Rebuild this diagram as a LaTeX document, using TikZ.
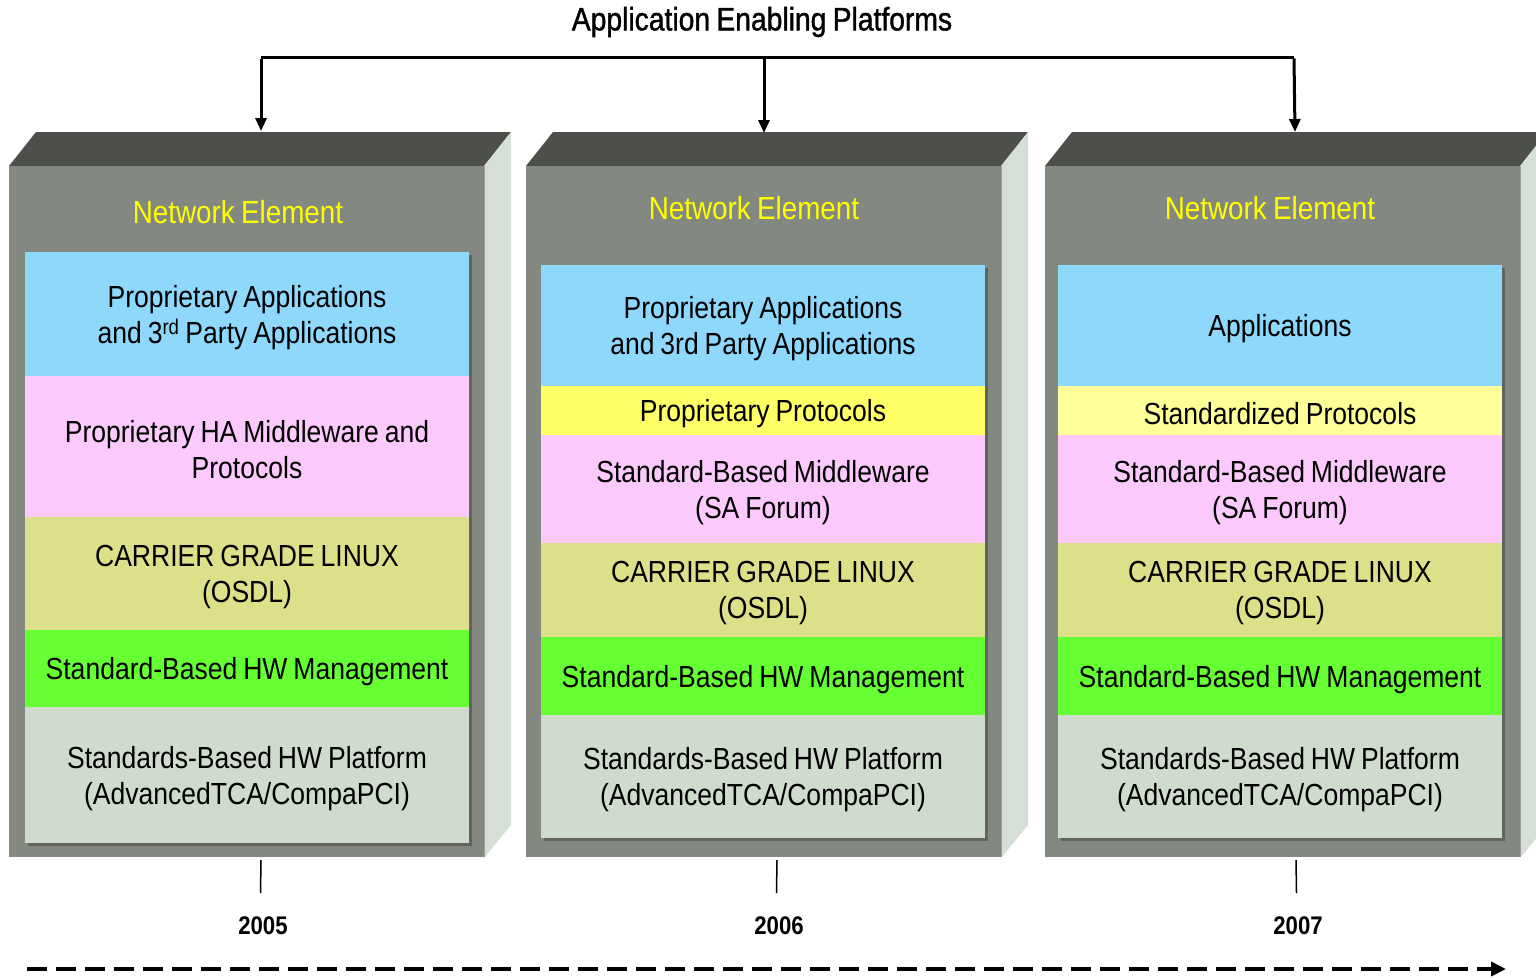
\documentclass[tikz,border=0pt]{standalone}
\usepackage{fontspec}
\setmainfont[FakeStretch=0.87,WordSpace=0.8]{Liberation Sans}
\newfontfamily\headfont[FakeStretch=0.87,WordSpace=0.8,FakeBold=1.2]{Liberation Sans}
\usetikzlibrary{arrows.meta}

\definecolor{frontgray}{HTML}{838880}
\definecolor{topgray}{HTML}{4D4F4B}
\definecolor{sidegray}{HTML}{D5DFD5}
\definecolor{appblue}{HTML}{8ED8FC}
\definecolor{mwpink}{HTML}{FBC9FB}
\definecolor{osolive}{HTML}{DDE088}
\definecolor{hwgreen}{HTML}{66FF33}
\definecolor{platgray}{HTML}{CFDBCD}
\definecolor{protoyellow}{HTML}{FFFF66}
\definecolor{stdyellow}{HTML}{FFFF99}
\definecolor{titleyellow}{HTML}{FFFF00}

\tikzset{
  layer/.style={inner sep=0pt, outer sep=0pt, minimum width=444pt},
  layertext/.style={inner sep=0pt, align=center, yshift=-3.5pt,
    font=\fontsize{30.5}{36}\selectfont},
  netlabel/.style={inner sep=0pt, text=titleyellow, font=\fontsize{32}{36}\selectfont},
  yearlabel/.style={inner sep=0pt, font=\fontsize{25.5}{30}\selectfont\bfseries},
  feed/.style={line width=3pt, -{Triangle[width=11pt,length=13pt]}},
  tick/.style={line width=1.5pt},
  timeline/.style={line width=4pt, dash pattern=on 20pt off 9pt,
    -{Triangle[width=14pt,length=15pt]}},
  shadowbox/.style={fill=black, opacity=0.25}
}

% one 3-D cabinet: left edge of the front face, given in points
\newcommand{\cabinet}[1]{%
  \fill[topgray] (#1,166) -- (#1+27,132) -- (#1+502,132) -- (#1+475,166) -- cycle;
  \fill[frontgray] (#1,166) rectangle (#1+475,857);
  \fill[sidegray] (#1+475,166) -- (#1+502,132) -- (#1+502,825) -- (#1+475,858) -- cycle;
  \draw[line width=1pt, color=frontgray!80!white] (#1+475.5,166) -- (#1+475.5,857);
}

\begin{document}
\begin{tikzpicture}[x=1pt,y=-1pt]
\useasboundingbox (0,0) rectangle (1536,977);

% cabinets
\cabinet{9}
\cabinet{526}
\cabinet{1045}

% shadows behind the layer stacks
\fill[shadowbox] (28,255) rectangle (472,846);
\fill[shadowbox] (544,268) rectangle (988,841);
\fill[shadowbox] (1061,268) rectangle (1505,841);

% ---- 2005 stack ----
\node[netlabel] (ne1) at (238,212) {Network Element};
\node[layer, fill=appblue,  minimum height=124pt] (a1) at (247,314) {};
\node[layer, fill=mwpink,   minimum height=141pt] (m1) at (247,446.5) {};
\node[layer, fill=osolive,  minimum height=113pt] (o1) at (247,573.5) {};
\node[layer, fill=hwgreen,  minimum height=77pt]  (g1) at (247,668.5) {};
\node[layer, fill=platgray, minimum height=136pt] (p1) at (247,775) {};
\node[layertext] (a1t) at (a1.center)
  {Proprietary Applications\\and 3\textsuperscript{rd} Party Applications};
\node[layertext] (m1t) at (m1.center) {Proprietary HA Middleware and\\Protocols};
\node[layertext] (o1t) at (o1.center) {CARRIER GRADE LINUX\\(OSDL)};
\node[layertext] (g1t) at (g1.center) {Standard-Based HW Management};
\node[layertext] (p1t) at (p1.center)
  {Standards-Based HW Platform\\(AdvancedTCA/CompaPCI)};

% ---- 2006 stack ----
\node[netlabel] (ne2) at (754,208) {Network Element};
\node[layer, fill=appblue,     minimum height=121pt] (a2) at (763,325.5) {};
\node[layer, fill=protoyellow, minimum height=49pt]  (r2) at (763,410.5) {};
\node[layer, fill=mwpink,      minimum height=108pt] (m2) at (763,489) {};
\node[layer, fill=osolive,     minimum height=94pt]  (o2) at (763,590) {};
\node[layer, fill=hwgreen,     minimum height=78pt]  (g2) at (763,676) {};
\node[layer, fill=platgray,    minimum height=123pt] (p2) at (763,776.5) {};
\node[layertext] (a2t) at (a2.center)
  {Proprietary Applications\\and 3rd Party Applications};
\node[layertext] (r2t) at (r2.center) {Proprietary Protocols};
\node[layertext] (m2t) at (m2.center) {Standard-Based Middleware\\(SA Forum)};
\node[layertext] (o2t) at (o2.center) {CARRIER GRADE LINUX\\(OSDL)};
\node[layertext] (g2t) at (g2.center) {Standard-Based HW Management};
\node[layertext] (p2t) at (p2.center)
  {Standards-Based HW Platform\\(AdvancedTCA/CompaPCI)};

% ---- 2007 stack ----
\node[netlabel] (ne3) at (1270,208) {Network Element};
\node[layer, fill=appblue,   minimum height=121pt] (a3) at (1280,325.5) {};
\node[layer, fill=stdyellow, minimum height=49pt]  (r3) at (1280,410.5) {};
\node[layer, fill=mwpink,    minimum height=108pt] (m3) at (1280,489) {};
\node[layer, fill=osolive,   minimum height=94pt]  (o3) at (1280,590) {};
\node[layer, fill=hwgreen,   minimum height=78pt]  (g3) at (1280,676) {};
\node[layer, fill=platgray,  minimum height=123pt] (p3) at (1280,776.5) {};
\node[layertext] (a3t) at (a3.center) {Applications};
\node[layertext] (r3t) at (r3.center) {Standardized Protocols};
\node[layertext] (m3t) at (m3.center) {Standard-Based Middleware\\(SA Forum)};
\node[layertext] (o3t) at (o3.center) {CARRIER GRADE LINUX\\(OSDL)};
\node[layertext] (g3t) at (g3.center) {Standard-Based HW Management};
\node[layertext] (p3t) at (p3.center)
  {Standards-Based HW Platform\\(AdvancedTCA/CompaPCI)};

% ---- platform bracket ----
\node[inner sep=0pt, font=\fontsize{32.5}{38}\headfont] (title) at (762,22)
  {Application Enabling Platforms};
\coordinate (j1) at (261,57);
\coordinate (j2) at (764,57);
\coordinate (j3) at (1294,57);
\coordinate (t1) at (261,131);
\coordinate (t2) at (764,133);
\coordinate (t3) at (1295,132);
\draw[line width=3pt] (j1) -- (j3);
\draw[feed] ([yshift=-1.5pt]j1) -- (t1);
\draw[feed] (j2) -- (t2);
\draw[feed] ([yshift=-1.5pt]j3) -- (t3);

% ---- time line ----
\node[yearlabel] (y1) at (263,926) {2005};
\node[yearlabel] (y2) at (779,926) {2006};
\node[yearlabel] (y3) at (1298,926) {2007};
\coordinate (k1) at (261,860);
\coordinate (k2) at (777,860);
\coordinate (k3) at (1296,860);
\draw[tick] (k1) -- (260.5,893);
\draw[tick] (k2) -- (776.5,893);
\draw[tick] (k3) -- (1296.5,893);
\coordinate (ts) at (27,969);
\coordinate (te) at (1506,969);
\draw[timeline] (ts) -- (te);
\end{tikzpicture}
\end{document}
